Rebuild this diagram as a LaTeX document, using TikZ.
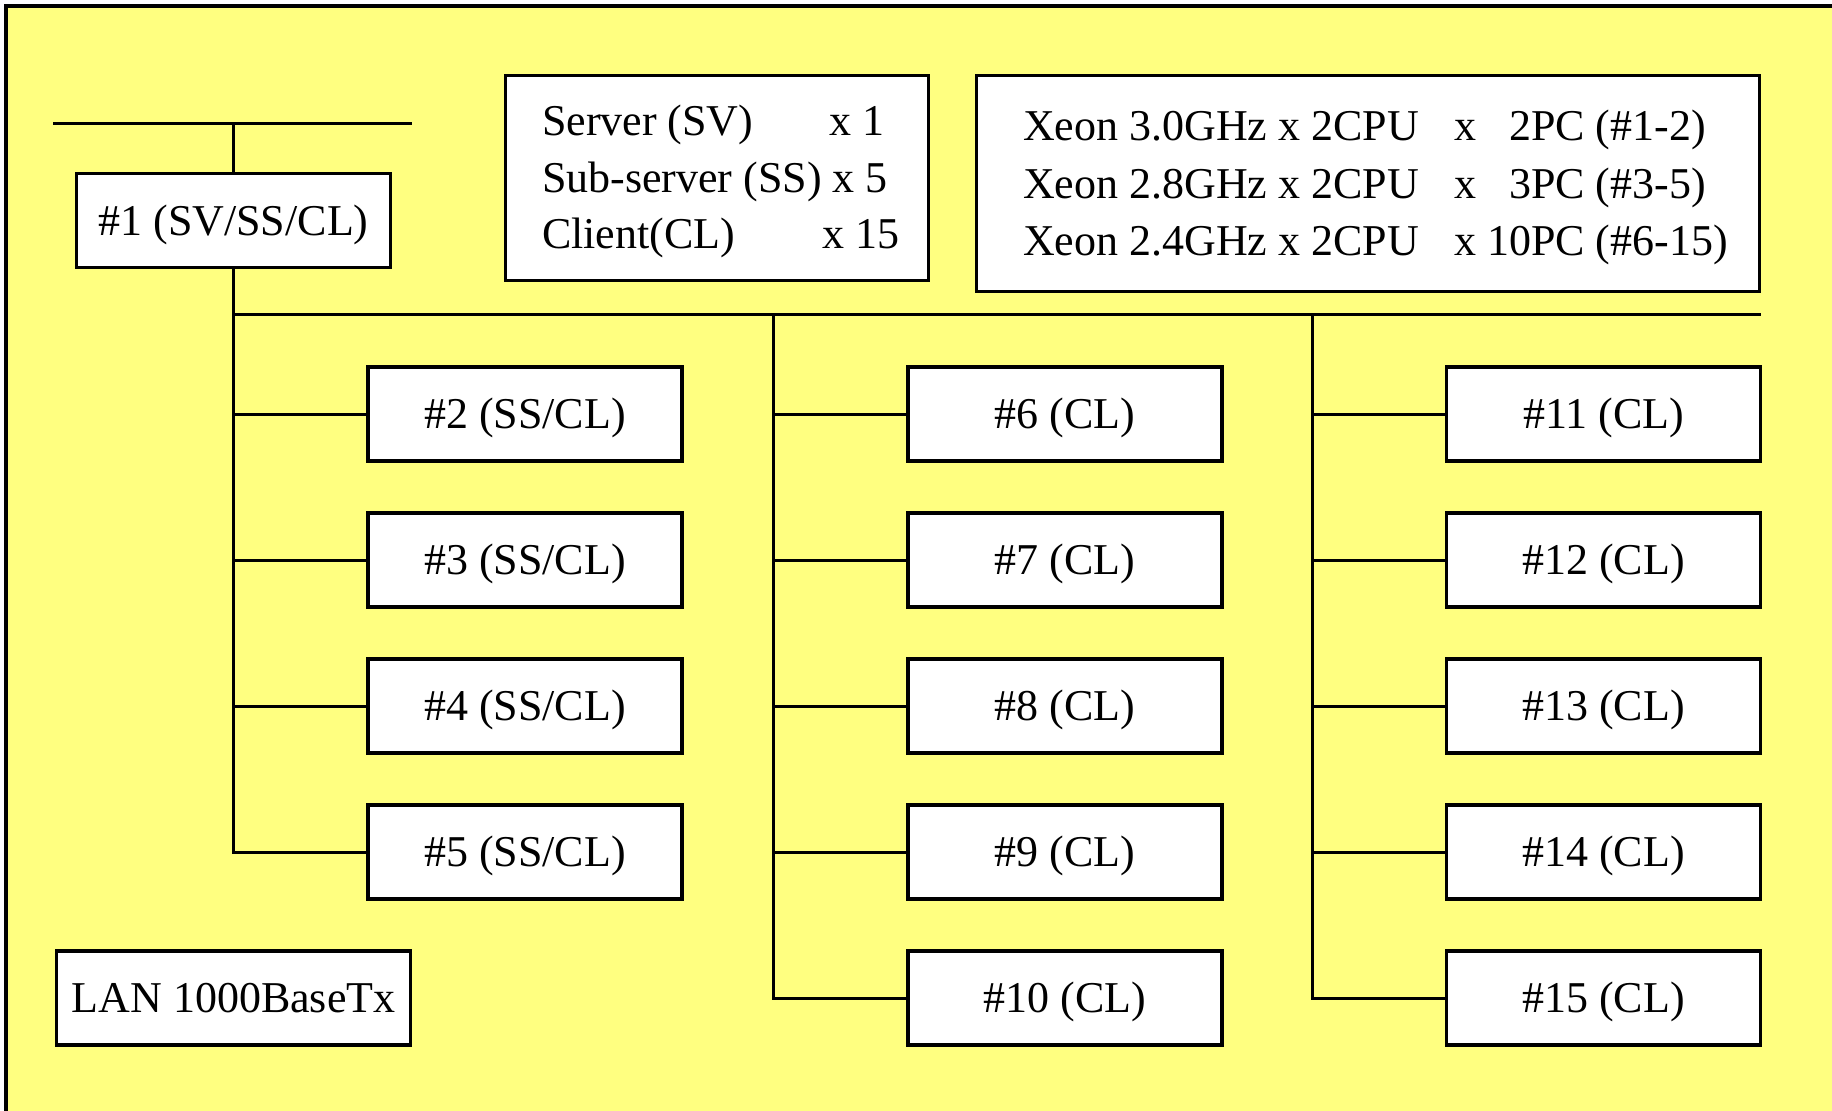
\documentclass[tikz,border=0pt]{standalone}
\usepackage{fontspec}
\setmainfont{Liberation Serif}
\definecolor{panel}{RGB}{255,255,128}
\begin{document}
\begin{tikzpicture}[x=0.5pt,y=-0.5pt,
  box/.style={draw=black, line width=1.6pt, fill=white, inner sep=0pt,
    minimum width=157pt, minimum height=47pt,
    font=\fontsize{22}{26}\selectfont, text height=14.5pt, text depth=0pt},
  infobox/.style={draw=black, line width=1.6pt, fill=white, inner sep=0pt, align=left},
  wire/.style={line width=1.5pt}]
\useasboundingbox (0,0) rectangle (1832,1110);
% background panel
\fill[panel] (6,6) rectangle (1850,1130);
\draw[line width=1.6pt] (6,1130) -- (6,6) -- (1850,6);

% server
\node[box] (n1) at (233.5,220.5) {\#1 (SV/SS/CL)};

% legend boxes
\node[infobox, minimum width=211.5pt, minimum height=102.5pt,
  font=\fontsize{22}{28.25}\selectfont] (roles) at (717,178)
  {\makebox[175pt][l]{\rule{0pt}{19pt}\makebox[144pt][l]{Server (SV)}x 1}\\
   \makebox[175pt][l]{Sub-server (SS) x 5}\\
   \makebox[175pt][l]{\rule[-5pt]{0pt}{5pt}\makebox[140pt][l]{Client(CL)}x 15}};
\node[infobox, minimum width=391.5pt, minimum height=108pt,
  font=\fontsize{22}{28.75}\selectfont] (cpus) at (1368,183.5)
  {\makebox[345pt][l]{\rule{0pt}{19.5pt}\makebox[216pt][l]{Xeon 3.0GHz x 2CPU}x\makebox[54pt][r]{2PC} (\#1-2)}\\
   \makebox[345pt][l]{\makebox[216pt][l]{Xeon 2.8GHz x 2CPU}x\makebox[54pt][r]{3PC} (\#3-5)}\\
   \makebox[345pt][l]{\rule[-5pt]{0pt}{5pt}\makebox[216pt][l]{Xeon 2.4GHz x 2CPU}x\makebox[54pt][r]{10PC} (\#6-15)}};

% column 1
\node[box] (n2) at (525,414) {\#2 (SS/CL)};
\node[box] (n3) at (525,560) {\#3 (SS/CL)};
\node[box] (n4) at (525,706) {\#4 (SS/CL)};
\node[box] (n5) at (525,852) {\#5 (SS/CL)};
% column 2
\node[box] (n6) at (1065,414) {\#6 (CL)};
\node[box] (n7) at (1065,560) {\#7 (CL)};
\node[box] (n8) at (1065,706) {\#8 (CL)};
\node[box] (n9) at (1065,852) {\#9 (CL)};
\node[box] (n10) at (1065,998) {\#10 (CL)};
% column 3
\node[box] (n11) at (1603.5,414) {\#11 (CL)};
\node[box] (n12) at (1603.5,560) {\#12 (CL)};
\node[box] (n13) at (1603.5,706) {\#13 (CL)};
\node[box] (n14) at (1603.5,852) {\#14 (CL)};
\node[box] (n15) at (1603.5,998) {\#15 (CL)};

\node[box, minimum width=177pt] (lan) at (233.5,998) {LAN 1000BaseTx};

% upper network segment
\coordinate (tl) at (53,123);
\coordinate (tr) at (412,123);
\draw[wire] (tl) -- (tr);
\draw[wire] (n1.north) -- (n1.north |- tl);

% main network segment
\coordinate (bl) at (233.5,314);
\coordinate (br) at (1761,314);
\coordinate (c2) at (773,314);
\coordinate (c3) at (1312,314);
\draw[wire] (bl) -- (br);

\draw[wire] (n1.south) |- (n5.west);
\foreach \n in {n2,n3,n4} \draw[wire] (\n.west) -- (\n.west -| n1.south);

\draw[wire] (c2) |- (n10.west);
\foreach \n in {n6,n7,n8,n9} \draw[wire] (\n.west) -- (\n.west -| c2);

\draw[wire] (c3) |- (n15.west);
\foreach \n in {n11,n12,n13,n14} \draw[wire] (\n.west) -- (\n.west -| c3);
\end{tikzpicture}
\end{document}
